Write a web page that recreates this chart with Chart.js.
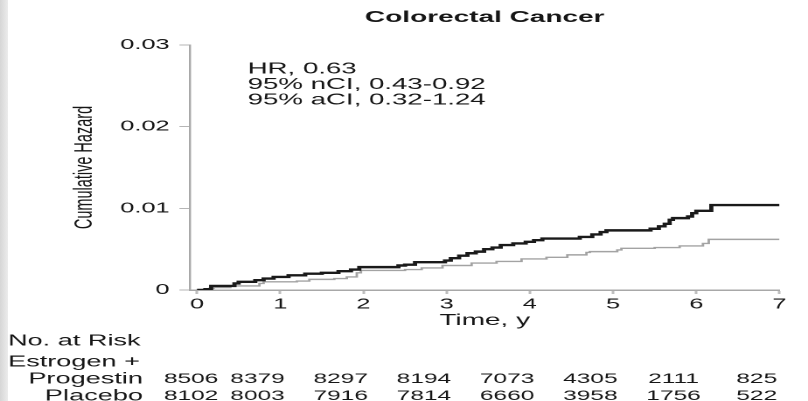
<!DOCTYPE html>
<html><head><meta charset="utf-8">
<script src="https://cdn.jsdelivr.net/npm/chart.js@4.4.1/dist/chart.umd.min.js"></script>
<style>
html,body{margin:0;padding:0;background:#fff;overflow:hidden;width:808px;height:401px;}
#wrap{position:absolute;left:0;top:0;width:462px;height:401px;transform:scaleX(1.74892);transform-origin:0 0;filter:blur(0.3px);}
#strip{position:absolute;left:0;top:0;width:8px;height:401px;background:linear-gradient(to right,#d6d6d6,#ececec);}
</style></head><body>
<div id="wrap"><canvas id="c" width="462" height="401"></canvas></div>
<div id="strip"></div>
<script>
// ---- data ----
const chartTitle = 'Colorectal Cancer';
const xTickValues = [0, 1, 2, 3, 4, 5, 6, 7];
const yTickValues = [0, 0.01, 0.02, 0.03];
const yTickLabels = ['0', '0.01', '0.02', '0.03'];
const annotationLines = ['HR, 0.63', '95% nCI, 0.43-0.92', '95% aCI, 0.32-1.24'];

const epTimes  = [0, 0.1, 0.17, 0.45, 0.5, 0.7, 0.8, 0.92, 1.1, 1.3, 1.5, 1.7, 1.85, 1.95, 2.42, 2.5, 2.62, 2.98, 3.05, 3.15, 3.25, 3.35, 3.45, 3.55, 3.65, 3.8, 3.95, 4.05, 4.15, 4.6, 4.75, 4.85, 4.92, 5.45, 5.55, 5.62, 5.68, 5.72, 5.9, 5.95, 6.0, 6.18, 7.0];
const epHazard = [0, 0.0001, 0.0005, 0.0008, 0.001, 0.0012, 0.0014, 0.0016, 0.0018, 0.002, 0.0021, 0.0023, 0.0025, 0.0028, 0.003, 0.0031, 0.0034, 0.0036, 0.0039, 0.0042, 0.0045, 0.0047, 0.005, 0.0052, 0.0055, 0.0057, 0.0059, 0.0061, 0.0063, 0.0065, 0.0068, 0.0071, 0.0073, 0.0075, 0.0078, 0.0081, 0.0086, 0.0088, 0.009, 0.0094, 0.0097, 0.0104, 0.0104];

const plTimes  = [0, 0.15, 0.2, 0.4, 0.75, 0.8, 1.2, 1.35, 1.65, 1.8, 1.92, 1.97, 2.5, 2.7, 2.95, 3.3, 3.6, 3.9, 4.2, 4.45, 4.68, 4.72, 5.05, 5.1, 5.5, 5.8, 6.08, 6.15, 7.0];
const plHazard = [0, 0.0002, 0.0003, 0.0005, 0.0008, 0.001, 0.0011, 0.0013, 0.0014, 0.0016, 0.0021, 0.0024, 0.0025, 0.0027, 0.003, 0.0033, 0.0035, 0.0038, 0.004, 0.0043, 0.0046, 0.0047, 0.0049, 0.0051, 0.0052, 0.0054, 0.0057, 0.0062, 0.0062];

const riskHeader = 'No. at Risk';
const riskGroupLine1 = 'Estrogen +';
const riskGroupLabels = ['Progestin', 'Placebo'];
const riskTimes = [0, 1, 2, 3, 4, 5, 6, 7];
const riskEP = [8506, 8379, 8297, 8194, 7073, 4305, 2111, 825];
const riskPlacebo = [8102, 8003, 7916, 7814, 6660, 3958, 1756, 522];

// ---- chart ----
const FONT = "'Liberation Sans', Arial, Helvetica, sans-serif";
Chart.defaults.font.family = FONT;
Chart.defaults.color = '#161616';

const textPlugin = {
  id: 'textPlugin',
  afterDraw(chart) {
    const ctx = chart.ctx;
    const xs = chart.scales.x;
    const area = chart.chartArea;
    ctx.save();
    ctx.fillStyle = '#161616';
    // annotation
    ctx.font = '15.8px ' + FONT;
    ctx.textAlign = 'left';
    ctx.textBaseline = 'middle';
    annotationLines.forEach((s, i) => ctx.fillText(s, area.left + 33, 69 + i * 15.5));
    // risk table
    ctx.font = '15.5px ' + FONT;
    ctx.fillText(riskHeader, 4.6, 341);
    ctx.fillText(riskGroupLine1, 4.6, 362);
    ctx.textAlign = 'right';
    const labelRight = 81.7;
    const rowsY = [379, 396];
    riskGroupLabels.forEach((s, i) => ctx.fillText(s, labelRight, rowsY[i]));
    ctx.font = '14px ' + FONT;
    ctx.textAlign = 'center';
    [riskEP, riskPlacebo].forEach((row, r) => {
      row.forEach((n, i) => {
        const txt = String(n);
        const w = ctx.measureText(txt).width;
        let cx = xs.getPixelForValue(riskTimes[i]) - 13;
        cx = Math.max(cx, labelRight + 12 + w / 2);
        ctx.fillText(txt, cx, rowsY[r]);
      });
    });
    ctx.restore();
  }
};

new Chart(document.getElementById('c'), {
  type: 'line',
  data: {
    datasets: [
      {
        label: 'Estrogen + Progestin',
        data: epTimes.map((t, i) => ({x: t, y: epHazard[i]})),
        borderColor: '#1a1a1a',
        borderWidth: 2.4,
        stepped: 'before',
        pointRadius: 0,
        fill: false
      },
      {
        label: 'Placebo',
        data: plTimes.map((t, i) => ({x: t, y: plHazard[i]})),
        borderColor: '#a3a3a3',
        borderWidth: 1.4,
        stepped: 'before',
        pointRadius: 0,
        fill: false
      }
    ]
  },
  options: {
    responsive: false,
    animation: false,
    devicePixelRatio: 2,
    layout: { padding: { top: 0, left: 0, right: 16.3, bottom: 71 } },
    plugins: {
      legend: { display: false },
      tooltip: { enabled: false },
      title: {
        display: true,
        text: chartTitle,
        fullSize: false,
        color: '#161616',
        font: { size: 16, weight: 'bold', family: FONT, lineHeight: 1.2 },
        padding: { top: 8, bottom: 17.8 }
      }
    },
    scales: {
      x: {
        type: 'linear',
        min: -0.085,
        max: 7,
        afterBuildTicks(scale) { scale.ticks = xTickValues.map(v => ({value: v})); },
        afterFit(scale) { scale.height = 40; },
        ticks: {
          font: { size: 14.5, family: FONT },
          color: '#161616',
          padding: 2,
          maxRotation: 0,
          callback: (v) => String(v)
        },
        grid: { drawOnChartArea: false, drawTicks: true, tickLength: 4, color: '#bdbdbd', tickWidth: 1.5 },
        border: { display: true, color: '#a8a8a8', width: 1.5 },
        title: {
          display: true,
          text: 'Time, y',
          color: '#161616',
          font: { size: 16, family: FONT, lineHeight: 1.2 },
          padding: { top: 0, bottom: 0 }
        }
      },
      y: {
        type: 'linear',
        min: 0,
        max: 0.03,
        afterBuildTicks(scale) { scale.ticks = yTickValues.map(v => ({value: v})); },
        afterFit(scale) { scale.width = 108.6; },
        ticks: {
          font: { size: 14.5, family: FONT },
          color: '#161616',
          padding: 5.6,
          callback: (v) => yTickLabels[yTickValues.indexOf(v)] ?? ''
        },
        grid: { drawOnChartArea: false, drawTicks: true, tickLength: 6, color: '#b5b5b5', tickWidth: 1 },
        border: { display: true, color: '#a8a8a8', width: 1.2 },
        title: {
          display: true,
          text: 'Cumulative Hazard',
          color: '#161616',
          font: { size: 14.5, family: FONT, lineHeight: 1.2 },
          padding: { top: 39.8, bottom: 0 }
        }
      }
    }
  },
  plugins: [textPlugin]
});
</script>
</body></html>
